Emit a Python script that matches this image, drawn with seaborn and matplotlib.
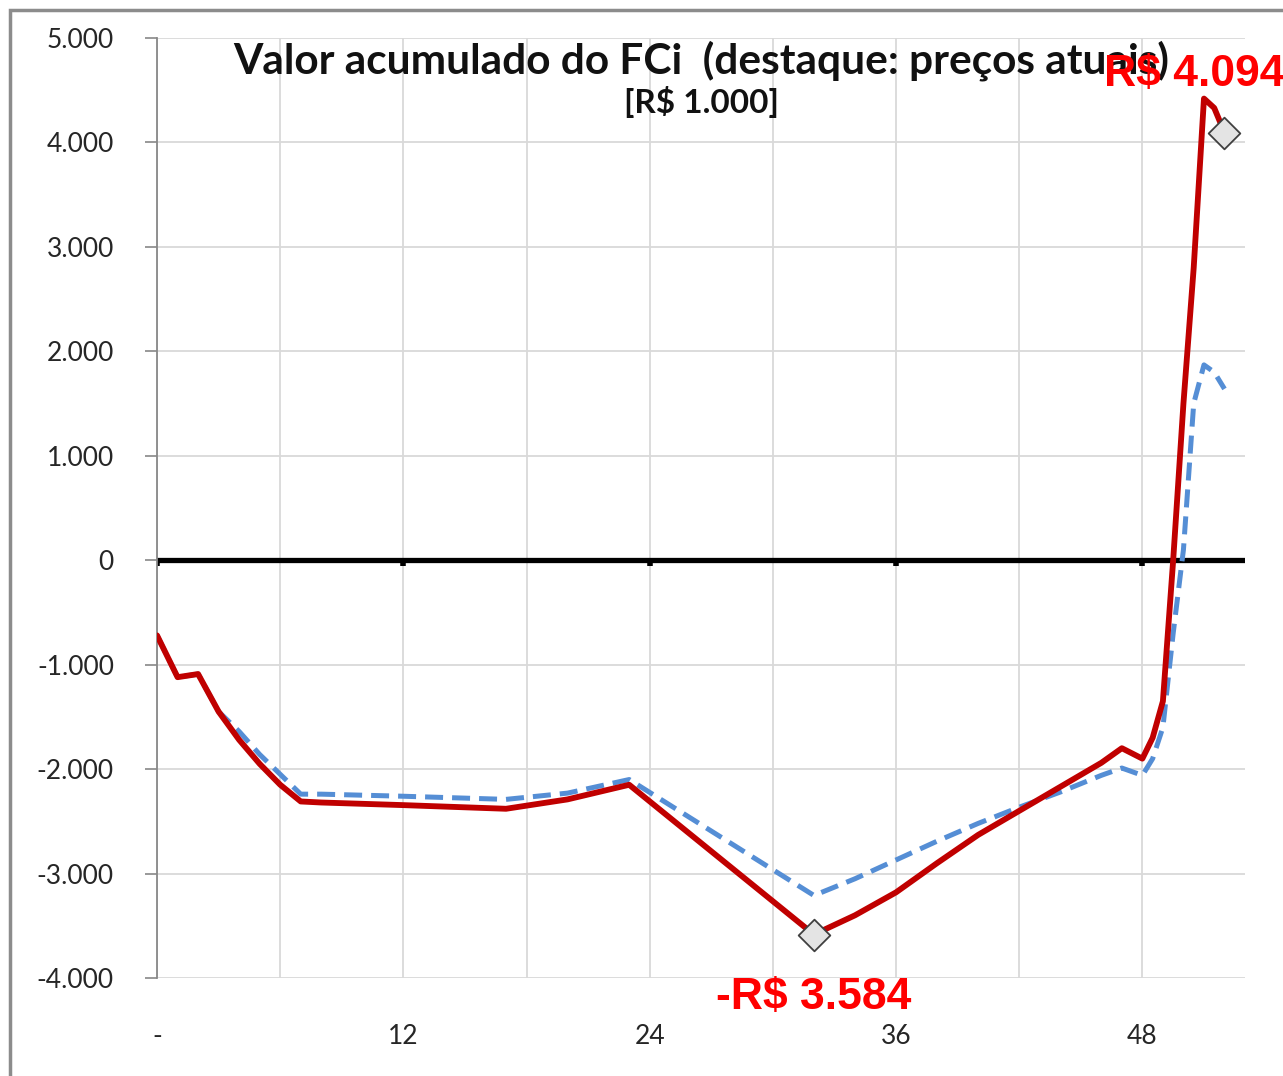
import matplotlib
matplotlib.use("Agg")
import matplotlib.pyplot as plt
import matplotlib.ticker as mticker
from matplotlib.patches import Rectangle
import seaborn as sns
import pandas as pd

# valores (R$ 1.000), por mes
meses = [0, 1, 2, 3, 4, 5, 6, 7, 8, 12, 17, 20, 23, 32, 34, 36, 38, 40, 42, 44, 46, 47, 48,
         48.5, 49, 49.5, 50, 50.5, 51, 51.5, 52]
fci_atual = [-720, -1120, -1090, -1450, -1720, -1950, -2150, -2310, -2320, -2345, -2380, -2290, -2150,
             -3584, -3400, -3180, -2900, -2630, -2400, -2170, -1940, -1800, -1900,
             -1700, -1350, 0, 1500, 2800, 4420, 4330, 4094]
fci_base = [-720, -1120, -1090, -1450, -1640, -1860, -2050, -2240, -2240, -2260, -2290, -2230, -2100,
            -3210, -3050, -2870, -2690, -2520, -2365, -2220, -2060, -1990, -2060,
            -1900, -1600, -700, 100, 1500, 1870, 1800, 1640]

destaque_mes = [32, 52]
destaque_valor = [-3584, 4094]
destaque_texto = ["-R$ 3.584", "R$ 4.094"]

x_ticks = [0, 12, 24, 36, 48]
x_labels = ["-", "12", "24", "36", "48"]

titulo = "Valor acumulado do FCi  (destaque: preços atuais)"
subtitulo = "[R$ 1.000]"

df = pd.DataFrame({"mes": meses, "atual": fci_atual, "base": fci_base})
df_dest = pd.DataFrame({"mes": destaque_mes, "valor": destaque_valor})

sns.set_style("white")
plt.rcParams["font.family"] = ["Lato", "DejaVu Sans"]

fig = plt.figure(figsize=(12.83, 10.76), dpi=100)
ax = fig.add_axes([0.1224, 0.0911, 0.8480, 0.8736])

sns.lineplot(data=df, x="mes", y="base", ax=ax, color="#558ED5", linewidth=3.6, zorder=3)
ax.lines[-1].set_dashes((3.6, 1.8))
ax.lines[-1].set_dash_capstyle("butt")
ax.lines[-1].set_solid_joinstyle("round")
sns.lineplot(data=df, x="mes", y="atual", ax=ax, color="#C00000", linewidth=4.2, zorder=4)
ax.lines[-1].set_solid_joinstyle("round")
sns.scatterplot(data=df_dest, x="mes", y="valor", ax=ax, marker="D", s=260,
                color="#E4E4E4", edgecolor="#404040", linewidth=1.3, zorder=5)

# linha do zero
ax.axhline(0, color="black", linewidth=3.8, zorder=2)

ax.set_xlim(0, 53)
ax.set_ylim(-4000, 5000)
ax.yaxis.set_major_locator(mticker.MultipleLocator(1000))
ax.yaxis.set_major_formatter(mticker.FuncFormatter(
    lambda v, p: "0" if v == 0 else f"{v:,.0f}".replace(",", ".")))
ax.set_xticks(x_ticks)
ax.xaxis.set_minor_locator(mticker.MultipleLocator(6))
ax.tick_params(axis="x", which="both", length=0, labelbottom=False)
ax.tick_params(axis="y", direction="out", length=9, width=1.2, color="#888888",
               labelsize=19, pad=22, left=True)
ax.grid(True, which="both", color="#D9D9D9", linewidth=1.3)
ax.set_axisbelow(True)
for s in ["top", "right", "bottom"]:
    ax.spines[s].set_visible(False)
ax.spines["left"].set_color("#888888")
ax.spines["left"].set_linewidth(1.3)
ax.set_xlabel("")
ax.set_ylabel("")

# marcas no eixo do zero
for t in x_ticks:
    ax.plot([t, t], [0, -60], color="black", linewidth=4, solid_capstyle="butt", zorder=2)

# rotulos do eixo x embaixo
sec = ax.secondary_xaxis("bottom")
sec.set_xticks(x_ticks)
sec.set_xticklabels(x_labels)
sec.tick_params(length=0, labelsize=19, pad=33)
sec.spines["bottom"].set_visible(False)

ax.text(0.5, 0.998, titulo, transform=ax.transAxes, ha="center", va="top", fontsize=30.5,
        fontweight="bold", color="#111111")
ax.text(0.5, 0.949, subtitulo, transform=ax.transAxes, ha="center", va="top", fontsize=24,
        fontweight="bold", color="#111111")

offsets = [(0, -45), (-22, 42)]
for x, y, txt, off in zip(destaque_mes, destaque_valor, destaque_texto, offsets):
    ax.annotate(txt, xy=(x, y), xytext=off, textcoords="offset points", ha="center", va="center",
                color="#FF0000", fontsize=32, fontweight="bold",
                family=["Liberation Sans", "DejaVu Sans"], annotation_clip=False, zorder=6)

fig.patches.append(Rectangle((0.0075, -0.05), 1.1, 0.05 + 1 - 0.0095, transform=fig.transFigure,
                             fill=False, edgecolor="#8C8C8C", linewidth=2.5))

fig.savefig("out.png", dpi=100)
